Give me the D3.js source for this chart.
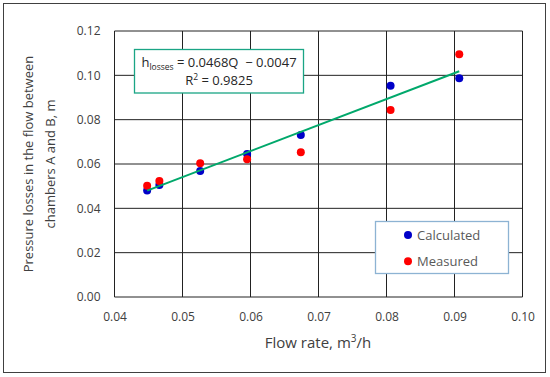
<!DOCTYPE html>
<html>
<head>
<meta charset="utf-8">
<script src="https://cdn.jsdelivr.net/npm/d3@7"></script>
<style>
  body { margin: 0; background: #fff; }
  text { font-family: "Open Sans", sans-serif; }
</style>
</head>
<body>
<script>
// data
var flowRates  = [0.0448, 0.0466, 0.0526, 0.0595, 0.0674, 0.0806, 0.0907];
var calculated = [0.0480, 0.0505, 0.0568, 0.0645, 0.0731, 0.0953, 0.0987];
var measured   = [0.0502, 0.0523, 0.0603, 0.0621, 0.0653, 0.0844, 0.1095];
var xTicks = [0.04, 0.05, 0.06, 0.07, 0.08, 0.09, 0.10];
var yTicks = [0.00, 0.02, 0.04, 0.06, 0.08, 0.10, 0.12];
var seriesNames = ['Calculated', 'Measured'];
var seriesColors = ['#0000c8', '#ff0000'];

const width = 550, height = 377;
const margin = {left: 114.5, top: 31, right: 522.5, bottom: 297};

var svg = d3.select('body').append('svg')
    .attr('width', width)
    .attr('height', height);

// outer frame
svg.append('rect')
    .attr('x', 3.5).attr('y', 3.5)
    .attr('width', 542).attr('height', 369)
    .attr('fill', '#fff')
    .attr('stroke', '#404040')
    .attr('stroke-width', 1);

var x = d3.scaleLinear().domain([0.04, 0.10]).range([margin.left, margin.right]);
var y = d3.scaleLinear().domain([0, 0.12]).range([margin.bottom, margin.top]);

// grid
svg.append('g')
    .selectAll('line')
    .data(xTicks)
    .join('line')
    .attr('x1', function(d) { return x(d); })
    .attr('x2', function(d) { return x(d); })
    .attr('y1', margin.top).attr('y2', margin.bottom)
    .attr('stroke', '#222').attr('stroke-width', 1);

svg.append('g')
    .selectAll('line')
    .data(yTicks)
    .join('line')
    .attr('y1', function(d) { return y(d); })
    .attr('y2', function(d) { return y(d); })
    .attr('x1', margin.left).attr('x2', margin.right)
    .attr('stroke', '#222').attr('stroke-width', 1);

// axes (labels only, lines come from the grid)
var xAxis = svg.append('g')
    .attr('transform', 'translate(0,' + margin.bottom + ')')
    .call(d3.axisBottom(x).tickValues(xTicks).tickFormat(d3.format('.2f')).tickSize(0).tickPadding(15));
var yAxis = svg.append('g')
    .attr('transform', 'translate(' + margin.left + ',0)')
    .call(d3.axisLeft(y).tickValues(yTicks).tickFormat(d3.format('.2f')).tickSize(0).tickPadding(14));
[xAxis, yAxis].forEach(function(a) {
  a.select('.domain').remove();
  a.selectAll('text')
      .attr('fill', '#404040')
      .style('font-family', '"Open Sans", sans-serif')
      .style('font-size', '12px');
});

// axis titles
svg.append('text')
    .attr('x', 318).attr('y', 348)
    .attr('text-anchor', 'middle')
    .attr('fill', '#404040')
    .style('font-size', '15px')
    .html('Flow rate, m<tspan dy="-6" font-size="10px">3</tspan><tspan dy="6">/h</tspan>');

var yTitle = svg.append('text')
    .attr('transform', 'translate(0,164) rotate(-90)')
    .attr('text-anchor', 'middle')
    .attr('fill', '#404040')
    .style('font-size', '13px');
yTitle.append('tspan').attr('x', 0).attr('y', 33).text('Pressure losses in the flow between');
yTitle.append('tspan').attr('x', 0).attr('y', 55).text('chambers A and B, m');

// points
var series = [calculated, measured];
series.forEach(function(vals, i) {
  svg.append('g')
      .selectAll('circle')
      .data(vals)
      .join('circle')
      .attr('cx', function(d, j) { return x(flowRates[j]); })
      .attr('cy', function(d) { return y(d); })
      .attr('r', 4)
      .attr('fill', seriesColors[i]);
});

// least squares trend line of calculated values
var mx = d3.mean(flowRates), my = d3.mean(calculated);
var sxy = d3.sum(flowRates, function(v, j) { return (v - mx) * (calculated[j] - my); });
var sxx = d3.sum(flowRates, function(v) { return (v - mx) * (v - mx); });
var slope = sxy / sxx, intercept = my - slope * mx;
var xr = d3.extent(flowRates);
svg.append('line')
    .attr('x1', x(xr[0])).attr('y1', y(slope * xr[0] + intercept))
    .attr('x2', x(xr[1])).attr('y2', y(slope * xr[1] + intercept))
    .attr('stroke', '#00a86b')
    .attr('stroke-width', 2);

// equation box
svg.append('rect')
    .attr('x', 134.5).attr('y', 49.5)
    .attr('width', 169).attr('height', 43.5)
    .attr('fill', '#fff')
    .attr('stroke', '#1aa585').attr('stroke-width', 1.3);
svg.append('text')
    .attr('x', 219).attr('y', 67)
    .attr('text-anchor', 'middle')
    .attr('fill', '#262626')
    .style('font-size', '13px')
    .style('white-space', 'pre')
    .html('h<tspan dy="3" font-size="8.5px">losses</tspan><tspan dy="-3"> = 0.0468Q  − 0.0047</tspan>');
svg.append('text')
    .attr('x', 219).attr('y', 85)
    .attr('text-anchor', 'middle')
    .attr('fill', '#262626')
    .style('font-size', '13px')
    .html('R<tspan dy="-5" font-size="8.5px">2</tspan><tspan dy="5"> = 0.9825</tspan>');

// legend
svg.append('rect')
    .attr('x', 375.5).attr('y', 221.5)
    .attr('width', 133).attr('height', 52)
    .attr('fill', '#fff')
    .attr('stroke', '#8db3d3').attr('stroke-width', 1.3);
var legend = svg.append('g')
    .selectAll('g')
    .data(seriesNames)
    .join('g')
    .attr('transform', function(d, i) { return 'translate(408,' + (235 + i * 26.3) + ')'; });
legend.append('circle')
    .attr('r', 4)
    .attr('fill', function(d, i) { return seriesColors[i]; });
legend.append('text')
    .attr('x', 9).attr('y', 4.5)
    .attr('fill', '#595959')
    .style('font-size', '13px')
    .text(function(d) { return d; });
</script>
</body>
</html>
